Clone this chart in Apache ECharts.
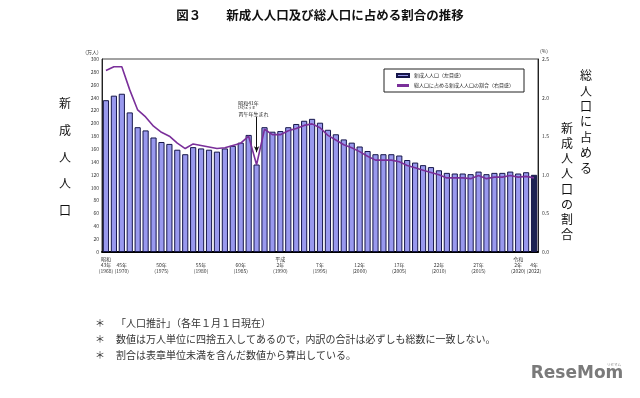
<!DOCTYPE html>
<html><head><meta charset="utf-8">
<script src="https://cdn.jsdelivr.net/npm/echarts@6/dist/echarts.min.js"></script>
<style>html,body{margin:0;padding:0;background:#fff}#c{width:640px;height:398px}</style>
</head><body><div id="c"></div>
<script>
const categories = ['1968','1969','1970','1971','1972','1973','1974','1975','1976','1977',
'1978','1979','1980','1981','1982','1983','1984','1985','1986','1987',
'1988','1989','1990','1991','1992','1993','1994','1995','1996','1997',
'1998','1999','2000','2001','2002','2003','2004','2005','2006','2007',
'2008','2009','2010','2011','2012','2013','2014','2015','2016','2017',
'2018','2019','2020','2021','2022'];
const newAdults = [236,243,246,217,194,189,178,171,168,159,
152,163,161,159,156,161,165,170,182,136,
194,187,188,194,199,204,207,201,190,183,
175,170,164,157,152,152,152,150,143,139,
135,132,127,123,122,122,121,125,121,123,
123,125,122,124,120];
const ratioPct = [2.35,2.40,2.40,2.10,1.84,1.75,1.63,1.55,1.50,1.41,
1.34,1.40,1.38,1.36,1.34,1.35,1.38,1.41,1.50,1.13,
1.59,1.52,1.52,1.57,1.60,1.64,1.66,1.61,1.51,1.45,
1.39,1.35,1.30,1.24,1.19,1.19,1.19,1.17,1.12,1.09,
1.06,1.03,1.00,0.96,0.96,0.96,0.95,0.99,0.95,0.97,
0.97,0.99,0.97,0.98,0.96];
const tickYears = ['1968','1970','1975','1980','1985','1990','1995','2000','2005','2010','2015','2020','2022'];
const tickLabels = ['昭和\n43年\n(1968)',' \n45年\n(1970)',' \n50年\n(1975)',' \n55年\n(1980)',' \n60年\n(1985)',
'平成\n2年\n(1990)',' \n7年\n(1995)',' \n12年\n(2000)',' \n17年\n(2005)',' \n22年\n(2010)',' \n27年\n(2015)',
'令和\n2年\n(2020)',' \n4年\n(2022)'];
const footnotes = ['「人口推計」（各年１月１日現在）',
'数値は万人単位に四捨五入してあるので，内訳の合計は必ずしも総数に一致しない。',
'割合は表章単位未満を含んだ数値から算出している。'];
const FONT = '"Noto Sans CJK JP", sans-serif';
const lastIdx = categories.length - 1;

const chart = echarts.init(document.getElementById('c'), null, {renderer:'canvas'});
const barData = newAdults.map((v,i)=> i===lastIdx ? {value:v,itemStyle:{color:'#1c2352'}} : v);

const option = {
  animation:false,
  textStyle:{fontFamily:FONT},
  grid:{left:102,right:102,top:59,height:193,show:true,borderColor:'#444',borderWidth:1},
  legend:{
    orient:'vertical', left:384, top:69, width:128,
    padding:[4,10,4,12], itemGap:5,
    borderColor:'#222', borderWidth:1,
    itemWidth:12, itemHeight:3,
    textStyle:{fontSize:5, color:'#222', fontFamily:FONT},
    data:[{name:'新成人人口（左目盛）',icon:'rect'},{name:'総人口に占める新成人人口の割合（右目盛）',icon:'rect',itemStyle:{color:'#7a2f9a'}}]
  },
  xAxis:{
    type:'category', data:categories,
    axisLine:{lineStyle:{color:'#000',width:2}},
    axisTick:{show:false},
    axisLabel:{interval:0, margin:4, fontSize:5, lineHeight:6, color:'#333', fontFamily:FONT,
      formatter:(v)=>{const k=tickYears.indexOf(v);return k<0?'':tickLabels[k];}}
  },
  yAxis:[
    {type:'value',min:0,max:300,interval:20,splitLine:{show:false},
     axisLine:{show:true,lineStyle:{color:'#222',width:1}},axisTick:{show:false},
     axisLabel:{fontSize:5,margin:3,color:'#333',fontFamily:FONT}},
    {type:'value',min:0,max:2.5,interval:0.5,splitLine:{show:false},
     axisLine:{show:true,lineStyle:{color:'#222',width:1}},axisTick:{show:false},
     axisLabel:{fontSize:5,margin:4,color:'#333',fontFamily:FONT,formatter:(v)=>v.toFixed(1)}}
  ],
  series:[
    {name:'新成人人口（左目盛）',type:'bar',data:barData,barCategoryGap:'22%',
     itemStyle:{color:'#9999ee',borderColor:'#16164a',borderWidth:1},
     markLine:{silent:true,symbol:['none','arrow'],symbolSize:[4,6],
       lineStyle:{color:'#111',width:1,type:'solid'},label:{show:false},
       data:[[{coord:['1987',210]},{coord:['1987',155]}]]}},
    {name:'総人口に占める新成人人口の割合（右目盛）',type:'line',yAxisIndex:1,data:ratioPct,
     showSymbol:false,symbol:'none',lineStyle:{color:'#7a2f9a',width:1.6},itemStyle:{color:'#7a2f9a'}}
  ]
};
chart.setOption(option);

const p = (cat,val)=>chart.convertToPixel({xAxisIndex:0,yAxisIndex:0},[cat,val]);
const a1 = p('1987',232), a2 = p('1987',224), a3 = p('1987',215);
const g = [];
g.push({type:'text',left:'center',top:9,style:{text:'図３　　新成人人口及び総人口に占める割合の推移',font:'bold 12.5px '+FONT,fill:'#111'}});
g.push({type:'text',x:a1[0]-8,y:a1[1],style:{text:'昭和41年',font:'5px '+FONT,fill:'#222',align:'center',verticalAlign:'middle'}});
g.push({type:'text',x:a2[0]-10,y:a2[1],style:{text:'ひのえうま',font:'3.5px '+FONT,fill:'#222',align:'center',verticalAlign:'middle'}});
g.push({type:'text',x:a3[0]-3,y:a3[1],style:{text:'丙午年生まれ',font:'5px '+FONT,fill:'#222',align:'center',verticalAlign:'middle'}});
g.push({type:'text',x:92,y:52,style:{text:'(万人)',font:'5px '+FONT,fill:'#333',align:'center',verticalAlign:'middle'}});
g.push({type:'text',x:544,y:51,style:{text:'(%)',font:'5px '+FONT,fill:'#333',align:'center',verticalAlign:'middle'}});
g.push({type:'text',top:90,left:59,style:{text:'新\n成\n人\n人\n口',font:'12px '+FONT,lineHeight:26.8,fill:'#111'}});
g.push({type:'text',left:580,top:68,style:{text:'総\n人\n口\nに\n占\nめ\nる',font:'12px '+FONT,lineHeight:15.4,fill:'#111'}});
g.push({type:'text',left:561,top:121,style:{text:'新\n成\n人\n人\n口\nの\n割\n合',font:'12px '+FONT,lineHeight:15.1,fill:'#111'}});
const fy = [323,339,355];
footnotes.forEach((t,i)=>{
  g.push({type:'text',x:100,y:fy[i],style:{text:'＊',font:'10px '+FONT,fill:'#333',align:'center',verticalAlign:'middle'}});
  g.push({type:'text',x:116,y:fy[i],style:{text:t,font:'10px '+FONT,fill:'#333',verticalAlign:'middle'}});
});
g.push({type:'text',x:577,y:374,style:{text:'ReseMom',font:'bold 17px "DejaVu Sans", sans-serif',fill:'#7a7a7a',align:'center',verticalAlign:'middle'}});
g.push({type:'text',x:614,y:365,style:{text:'リセマム',font:'3.5px '+FONT,fill:'#888',align:'center',verticalAlign:'middle'}});
chart.setOption({graphic:g});
</script></body></html>
